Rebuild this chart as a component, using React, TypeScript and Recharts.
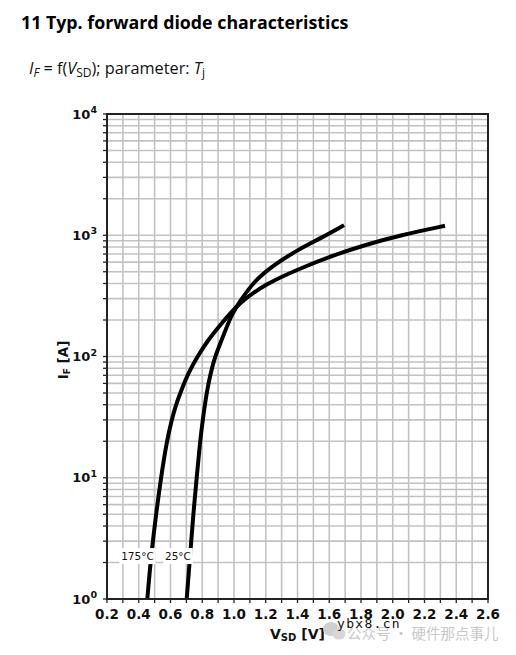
import { LineChart, Line, XAxis, YAxis, CartesianGrid, ReferenceArea, ReferenceDot } from "recharts";

// 175°C curve: V_SD [V] vs I_F [A]
const hotV = [0.454, 0.477, 0.51, 0.54, 0.576, 0.607, 0.634, 0.664, 0.712, 0.77, 0.835, 0.912, 1.033, 1.206, 1.416, 1.626, 1.836, 2.046, 2.329];
const hotI = [1, 2.23, 5.1, 10, 19.8, 29.9, 39.8, 51, 73, 100, 136, 181, 279, 401, 532, 685, 839, 1000, 1196];

// 25°C curve
const coldV = [0.702, 0.723, 0.744, 0.765, 0.786, 0.803, 0.828, 0.853, 0.88, 0.922, 0.982, 1.033, 1.122, 1.248, 1.416, 1.54, 1.693];
const coldI = [1, 2.23, 5.1, 10, 19.8, 29.9, 51, 73, 99.5, 136, 219, 279, 413, 567, 778, 935, 1212];

const xTicks = [0.2, 0.3, 0.4, 0.5, 0.6, 0.7, 0.8, 0.9, 1.0, 1.1, 1.2, 1.3, 1.4, 1.5, 1.6, 1.7, 1.8, 1.9, 2.0, 2.1, 2.2, 2.3, 2.4, 2.5, 2.6];
const xLabels = ["0.2", "0.4", "0.6", "0.8", "1.0", "1.2", "1.4", "1.6", "1.8", "2.0", "2.2", "2.4", "2.6"];
const yTicks = [1, 2, 3, 4, 5, 6, 7, 8, 9, 10, 20, 30, 40, 50, 60, 70, 80, 90, 100, 200, 300, 400, 500, 600, 700, 800, 900, 1000, 2000, 3000, 4000, 5000, 6000, 7000, 8000, 9000, 10000];
const yDecades = [1, 10, 100, 1000, 10000];

// temperature labels: [text, V, I]
const tempLabels: [string, number, number][] = [
  ["175°C", 0.392, 2.26],
  ["25°C", 0.647, 2.26],
];

const hot = hotV.map((v, k) => ({ v, i: hotI[k] }));
const cold = coldV.map((v, k) => ({ v, i: coldI[k] }));

const tickFont = "'DejaVu Sans', sans-serif";

function XTick({ x, y, payload }: any) {
  const s = Number(payload.value).toFixed(1);
  if (!xLabels.includes(s)) return null;
  return (
    <text x={x} y={y + 14} textAnchor="middle" fontFamily={tickFont} fontWeight="bold" fontSize={13.5} fill="#111">
      {s}
    </text>
  );
}

function YTick({ x, y, payload }: any) {
  const k = yDecades.indexOf(payload.value);
  if (k < 0) return null;
  return (
    <text x={x - 4} y={y + 4.5} textAnchor="end" fontFamily={tickFont} fontWeight="bold" fontSize={13} fill="#111">
      10
      <tspan dy={-5.5} fontSize={9.5}>{k}</tspan>
    </text>
  );
}

function TempLabel({ cx, cy, text }: any) {
  const w = text.length * 6.4 + 4;
  return (
    <g>
      <rect x={cx - w / 2} y={cy - 8} width={w} height={16} fill="#fff" />
      <text x={cx} y={cy + 4} textAnchor="middle" fontFamily={tickFont} fontSize={10.5} fill="#111">
        {text}
      </text>
    </g>
  );
}

export default function App() {
  return (
    <div style={{ position: "absolute", left: 0, top: 0, width: 516, height: 655, background: "#fff" }}>
      <LineChart width={516} height={655} margin={{ top: 114, right: 28, bottom: 26, left: 47 }}>
        <CartesianGrid stroke="#c2c2c2" strokeWidth={1.6} />
        <XAxis
          type="number"
          dataKey="v"
          domain={[0.2, 2.6]}
          ticks={xTicks}
          interval={0}
          allowDataOverflow
          height={30}
          tick={<XTick />}
          tickSize={4}
          tickLine={{ stroke: "#222", strokeWidth: 1.3 }}
          axisLine={{ stroke: "#222", strokeWidth: 2 }}
        />
        <YAxis
          type="number"
          dataKey="i"
          scale="log"
          domain={[1, 10000]}
          ticks={yTicks}
          interval={0}
          allowDataOverflow
          width={60}
          tick={<YTick />}
          tickSize={4}
          tickLine={{ stroke: "#222", strokeWidth: 1.3 }}
          axisLine={{ stroke: "#222", strokeWidth: 2 }}
        />
        <ReferenceArea x1={0.2} x2={2.6} y1={1} y2={10000} fill="none" stroke="#222" strokeWidth={2} fillOpacity={0} />
        <Line data={hot} dataKey="i" type="basis" dot={false} stroke="#000" strokeWidth={4} isAnimationActive={false} />
        <Line data={cold} dataKey="i" type="basis" dot={false} stroke="#000" strokeWidth={4} isAnimationActive={false} />
        {tempLabels.map(([t, v, i]) => (
          <ReferenceDot key={t} x={v} y={i} r={0} shape={(p: any) => <TempLabel {...p} text={t} />} />
        ))}
      </LineChart>
      <svg width={516} height={655} style={{ position: "absolute", left: 0, top: 0, pointerEvents: "none" }}>
        <text x={21} y={29} fontFamily="'Open Sans', sans-serif" fontWeight="bold" fontSize={17.8} fill="#000">
          11 Typ. forward diode characteristics
        </text>
        <text x={29} y={74} fontFamily="'Open Sans', sans-serif" fontSize={16.3} fill="#111">
          <tspan fontStyle="italic">I</tspan>
          <tspan fontStyle="italic" fontSize={12} dy={3}>F</tspan>
          <tspan dy={-3}> = f(</tspan>
          <tspan fontStyle="italic">V</tspan>
          <tspan fontSize={12} dy={3}>SD</tspan>
          <tspan dy={-3}>); parameter: </tspan>
          <tspan fontStyle="italic">T</tspan>
          <tspan fontSize={12} dy={3}>j</tspan>
        </text>
        <text
          transform="translate(68,360) rotate(-90)"
          textAnchor="middle"
          fontFamily={tickFont}
          fontWeight="bold"
          fontSize={13.5}
          fill="#111"
        >
          I<tspan fontSize={9} dy={2}>F</tspan>
          <tspan dy={-2}> [A]</tspan>
        </text>
        <text x={270} y={639} fontFamily={tickFont} fontWeight="bold" fontSize={14} fill="#111">
          V<tspan fontSize={10} dy={2}>SD</tspan>
          <tspan dy={-2}> [V]</tspan>
        </text>
        <ellipse cx={331} cy={629} rx={8} ry={7} fill="#cfcfcf" />
        <ellipse cx={339} cy={634} rx={6.5} ry={5.5} fill="#d6d6d6" />
        <text x={347} y={639} fontFamily="'Noto Sans CJK SC', sans-serif" fontSize={14.5} fill="#c8c8c8">
          公众号 · 硬件那点事儿
        </text>
        <text x={337} y={628} fontFamily="'DejaVu Sans Mono', monospace" fontSize={13} letterSpacing={1.3} fill="#111">
          ybx8.cn
        </text>
      </svg>
    </div>
  );
}
